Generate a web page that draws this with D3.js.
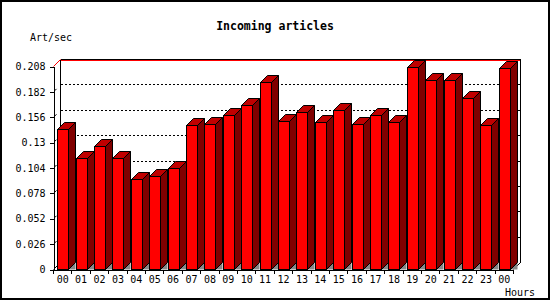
<!DOCTYPE html>
<html>
<head>
<meta charset="utf-8">
<script src="https://cdn.jsdelivr.net/npm/d3@7"></script>
<style>
body { margin: 0; background: #fff; }
text { font-family: "DejaVu Sans Mono", monospace; font-size: 10px; fill: #000; }
</style>
</head>
<body>
<script>
// Incoming articles per hour, 3D bar chart

var hours = ["00","01","02","03","04","05","06","07","08","09","10","11",
             "12","13","14","15","16","17","18","19","20","21","22","23","00"];
var artPerSec = [0.143, 0.114, 0.126, 0.114, 0.092, 0.095, 0.104, 0.148, 0.149,
                 0.158, 0.168, 0.192, 0.152, 0.161, 0.151, 0.163, 0.149, 0.158,
                 0.151, 0.207, 0.194, 0.194, 0.175, 0.148, 0.206];
var yTicks = [0, 0.026, 0.052, 0.078, 0.104, 0.13, 0.156, 0.182, 0.208];

var outWidth = 550, outHeight = 300;
var margin = {top: 66.5, right: 36.5, bottom: 30.5, left: 53.5};
var depthX = 7, depthY = -7;

var svg = d3.select("body").append("svg")
    .attr("width", outWidth)
    .attr("height", outHeight);

// frame round the whole picture
svg.append("rect")
    .attr("x", 1).attr("y", 1)
    .attr("width", outWidth - 2).attr("height", outHeight - 2)
    .attr("fill", "#fff")
    .attr("stroke", "#000")
    .attr("stroke-width", 2);

var xScale = d3.scaleBand()
    .domain(d3.range(hours.length))
    .range([margin.left, outWidth - margin.right])
    .padding(0);
var yScale = d3.scaleLinear()
    .domain([0, 0.208])
    .range([outHeight - margin.bottom, margin.top]);

var x0 = xScale.range()[0], x1 = xScale.range()[1];
var y0 = yScale(0), yTop = yScale(0.208);

// back walls
var back = svg.append("g").attr("shape-rendering", "crispEdges");
back.selectAll(".grid")
    .data(yTicks.filter(function(d) { return d > 0 && d < 0.208; }))
    .enter().append("line")
    .attr("x1", x0 + depthX).attr("x2", x1 + depthX)
    .attr("y1", function(d) { return yScale(d) + depthY; })
    .attr("y2", function(d) { return yScale(d) + depthY; })
    .attr("stroke", "#000")
    .attr("stroke-dasharray", "2,2");
// little ticks on the right wall
back.selectAll(".rtick")
    .data(yTicks.filter(function(d) { return d > 0 && d < 0.208; }))
    .enter().append("line")
    .attr("x1", x1 + depthX - 4).attr("x2", x1 + depthX)
    .attr("y1", function(d) { return yScale(d) + depthY; })
    .attr("y2", function(d) { return yScale(d) + depthY; })
    .attr("stroke", "#000");
back.append("line")
    .attr("x1", x0 + depthX).attr("x2", x1 + depthX)
    .attr("y1", yTop + depthY + 1).attr("y2", yTop + depthY + 1)
    .attr("stroke", "#f00");
back.append("line")
    .attr("x1", x0 + depthX).attr("x2", x1 + depthX)
    .attr("y1", yTop + depthY).attr("y2", yTop + depthY)
    .attr("stroke", "#000");
back.append("line")
    .attr("x1", x0 + depthX).attr("x2", x0 + depthX)
    .attr("y1", yTop + depthY).attr("y2", y0 + depthY)
    .attr("stroke", "#000");
back.append("line")
    .attr("x1", x1 + depthX).attr("x2", x1 + depthX)
    .attr("y1", yTop + depthY).attr("y2", y0 + depthY)
    .attr("stroke", "#000");
svg.append("line")
    .attr("x1", x0).attr("y1", yTop)
    .attr("x2", x0 + depthX).attr("y2", yTop + depthY)
    .attr("stroke", "#f00");
svg.append("line")
    .attr("x1", x1).attr("y1", y0)
    .attr("x2", x1 + depthX).attr("y2", y0 + depthY)
    .attr("stroke", "#000");
svg.append("line")
    .attr("x1", x0).attr("y1", y0)
    .attr("x2", x0 + depthX).attr("y2", y0 + depthY)
    .attr("stroke", "#000");

// bars: front, top and side faces
var step = xScale.step();
var barW = 11;
var bars = svg.selectAll(".bar")
    .data(artPerSec)
    .enter().append("g")
    .attr("class", "bar");

function pts(arr) { return arr.map(function(p) { return p.join(","); }).join(" "); }
function barLeft(i) { return Math.round(xScale(i) + (step - barW) / 2) + 0.5; }
function barTop(d) { return Math.round(yScale(d) - 0.5) + 0.5; }

bars.append("polygon")
    .attr("points", function(d, i) {
        var l = barLeft(i) + barW;
        return pts([[l, y0], [l + depthX, y0 + depthY], [l + depthX, y0]]);
    })
    .attr("fill", "#888");
bars.append("polygon")
    .attr("points", function(d, i) {
        var l = barLeft(i), t = barTop(d);
        return pts([[l, t], [l + depthX, t + depthY], [l + barW + depthX, t + depthY], [l + barW, t]]);
    })
    .attr("fill", "#c00000").attr("stroke", "#000");
bars.append("polygon")
    .attr("points", function(d, i) {
        var l = barLeft(i) + barW, t = barTop(d);
        return pts([[l, t], [l + depthX, t + depthY], [l + depthX, y0 + depthY], [l, y0]]);
    })
    .attr("fill", "#800000").attr("stroke", "#000");
bars.append("rect")
    .attr("x", function(d, i) { return barLeft(i); })
    .attr("y", function(d) { return barTop(d); })
    .attr("width", barW)
    .attr("height", function(d) { return y0 - barTop(d); })
    .attr("fill", "#f00").attr("stroke", "#000");

// y axis
var yAxis = d3.axisLeft(yScale)
    .tickValues(yTicks)
    .tickSize(4).tickSizeOuter(0).tickPadding(4)
    .tickFormat(function(d) { return d === 0 ? "0" : String(d); });
var gy = svg.append("g")
    .attr("transform", "translate(" + x0 + ",0)")
    .attr("shape-rendering", "crispEdges")
    .call(yAxis);
gy.select(".domain").attr("stroke", "#000");
gy.selectAll("text").attr("font-family", null).attr("font-size", null);
// small 3D tick stubs
svg.selectAll(".ystub")
    .data(yTicks.filter(function(d) { return d > 0 && d < 0.208; }))
    .enter().append("line")
    .attr("x1", x0 + 1).attr("x2", x0 + 3)
    .attr("y1", function(d) { return yScale(d) - 1; })
    .attr("y2", function(d) { return yScale(d) - 3; })
    .attr("stroke", "#000");

// x axis
var xAxis = d3.axisBottom(xScale)
    .tickSize(0).tickPadding(6)
    .tickFormat(function(i) { return hours[i]; });
var gx = svg.append("g")
    .attr("transform", "translate(0," + y0 + ")")
    .attr("shape-rendering", "crispEdges")
    .call(xAxis);
gx.selectAll("text").attr("font-family", null).attr("font-size", null);
gx.selectAll(".edge")
    .data(d3.range(hours.length + 1))
    .enter().append("line")
    .attr("x1", function(i) { return x0 + i * step; })
    .attr("x2", function(i) { return x0 + i * step; })
    .attr("y1", 0).attr("y2", 4)
    .attr("stroke", "#000");

// titles
svg.append("text")
    .attr("x", 275).attr("y", 30)
    .style("text-anchor", "middle")
    .style("font-weight", "bold")
    .style("font-size", "11.5px")
    .text("Incoming articles");
svg.append("text")
    .attr("x", 30).attr("y", 41)
    .text("Art/sec");
svg.append("text")
    .attr("x", 505).attr("y", 296)
    .text("Hours");
</script>
</body>
</html>
